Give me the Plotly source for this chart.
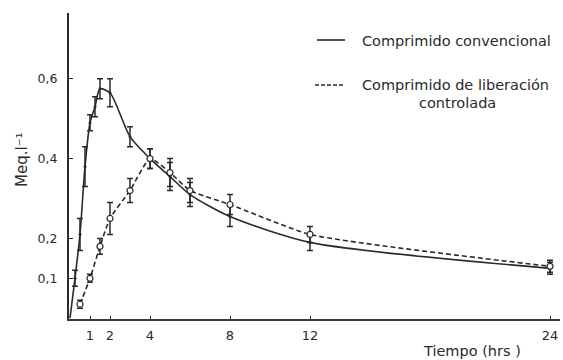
import plotly.graph_objects as go

# Time (hours)
t_conv = [0.25, 0.5, 0.75, 1.0, 1.25, 1.5, 2.0, 3.0, 4.0, 5.0, 6.0, 8.0, 12.0, 24.0]
y_conv = [0.10, 0.21, 0.38, 0.49, 0.53, 0.575, 0.565, 0.455, 0.40, 0.355, 0.31, 0.255, 0.19, 0.125]
e_conv = [0.02, 0.04, 0.05, 0.02, 0.025, 0.025, 0.035, 0.025, 0.025, 0.035, 0.03, 0.025, 0.02, 0.015]

t_ctrl = [0.5, 1.0, 1.5, 2.0, 3.0, 4.0, 5.0, 6.0, 8.0, 12.0, 24.0]
y_ctrl = [0.035, 0.10, 0.18, 0.25, 0.32, 0.40, 0.365, 0.32, 0.285, 0.21, 0.13]
e_ctrl = [0.01, 0.01, 0.02, 0.04, 0.03, 0.025, 0.035, 0.03, 0.025, 0.02, 0.015]

t0, y0 = 0.0, 0.0  # start of the conventional curve

x_ticks = [1, 2, 4, 8, 12, 24]
y_ticks = [0.1, 0.2, 0.4, 0.6]
y_ticklabels = ["0,1", "0,2", "0,4", "0,6"]

INK = "#2a2a2a"
FONT = "DejaVu Sans"

fig = go.Figure()

# conventional: smooth solid curve
fig.add_trace(go.Scatter(
    x=[t0] + t_conv, y=[y0] + y_conv, mode="lines",
    line=dict(color=INK, width=1.6, shape="spline", smoothing=0.7),
    hoverinfo="skip", showlegend=False))
fig.add_trace(go.Scatter(
    x=t_conv, y=y_conv, mode="markers",
    marker=dict(size=3, color=INK),
    error_y=dict(type="data", array=e_conv, color=INK, thickness=1.5, width=3),
    showlegend=False))

# controlled release: dashed curve with open circles
fig.add_trace(go.Scatter(
    x=t_ctrl, y=y_ctrl, mode="lines+markers",
    line=dict(color=INK, width=1.6, dash="5px,3px", shape="spline", smoothing=0.5),
    marker=dict(size=6, color="white", symbol="circle", line=dict(color=INK, width=1.2)),
    error_y=dict(type="data", array=e_ctrl, color=INK, thickness=1.5, width=3),
    showlegend=False))

L, R, T, B = 69, 3, 13, 41
W, H = 563, 360
pw, ph = W - L - R, H - T - B

def px(x):
    return (x - L) / pw

def py(y):
    return (H - B - y) / ph

fig.update_layout(
    width=W, height=H,
    margin=dict(l=L, r=R, t=T, b=B),
    paper_bgcolor="white", plot_bgcolor="white",
    font=dict(family=FONT, color=INK, size=12),
    xaxis=dict(range=[-0.05, 24.5], tickvals=x_ticks, ticktext=[str(v) for v in x_ticks],
               ticks="inside", ticklen=3, tickcolor=INK, showgrid=False, zeroline=False,
               showline=True, linecolor="#3a3a3a", linewidth=1.5,
               tickfont=dict(size=13, family=FONT), ticklabelstandoff=4),
    yaxis=dict(range=[-0.002, 0.765], tickvals=y_ticks, ticktext=y_ticklabels,
               ticks="inside", ticklen=4, tickcolor=INK, showgrid=False, zeroline=False,
               showline=True, linecolor=INK, linewidth=2,
               tickfont=dict(size=12.5, family=FONT), ticklabelstandoff=7),
    showlegend=False,
)

# legend drawn manually
fig.add_shape(type="line", xref="paper", yref="paper",
              x0=px(317), x1=px(345), y0=py(40), y1=py(40),
              line=dict(color=INK, width=1.6))
fig.add_shape(type="line", xref="paper", yref="paper",
              x0=px(315), x1=px(345), y0=py(85), y1=py(85),
              line=dict(color=INK, width=1.6, dash="4px,2px"))

ann = [
    dict(text="Comprimido convencional", x=px(360), y=py(41), xanchor="left", yanchor="middle", size=14.5),
    dict(text="Comprimido de liberación", x=px(360), y=py(85), xanchor="left", yanchor="middle", size=14.5),
    dict(text="controlada", x=px(457), y=py(103), xanchor="center", yanchor="middle", size=14.5),
    dict(text="Tiempo (hrs )", x=px(472), y=py(351), xanchor="center", yanchor="middle", size=14.5),
]
for a in ann:
    fig.add_annotation(text=a["text"], x=a["x"], y=a["y"], xref="paper", yref="paper",
                       xanchor=a["xanchor"], yanchor=a["yanchor"], showarrow=False,
                       font=dict(size=a["size"], family=FONT, color=INK))
fig.add_annotation(text="Meq.l\u207b\u00b9", x=px(22), y=py(160), xref="paper", yref="paper",
                   xanchor="center", yanchor="middle", textangle=-90, showarrow=False,
                   font=dict(size=15, family=FONT, color=INK))

fig.write_html("out.html")
